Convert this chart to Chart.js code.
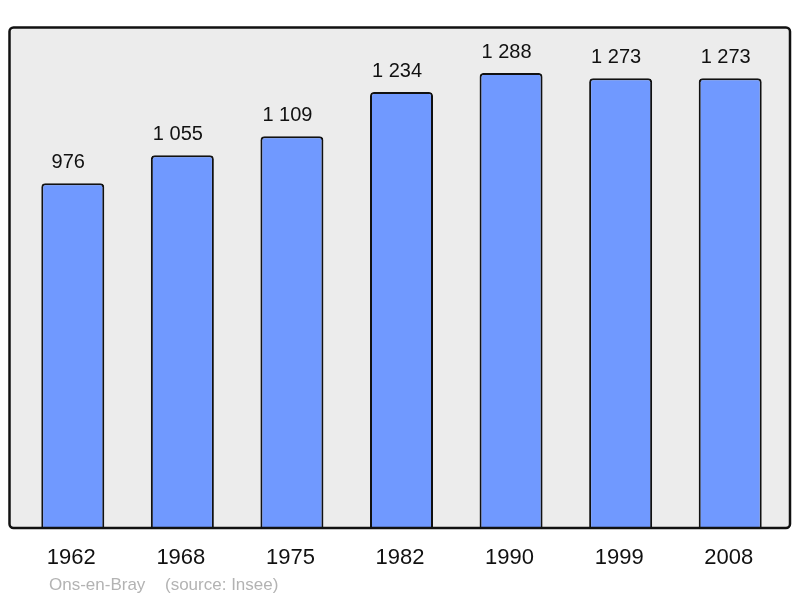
<!DOCTYPE html>
<html>
<head>
<meta charset="utf-8">
<script src="https://cdn.jsdelivr.net/npm/chart.js@4/dist/chart.umd.min.js"></script>
<style>
  html, body { margin: 0; padding: 0; background: #fff; }
  #wrap { width: 800px; height: 598px; }
</style>
</head>
<body>
<div id="wrap"><canvas id="popChart" width="800" height="598"></canvas></div>
<script>
// données
const years = ['1962', '1968', '1975', '1982', '1990', '1999', '2008'];
const population = [976, 1055, 1109, 1234, 1288, 1273, 1273];
const commune = 'Ons-en-Bray';
const source = '(source: Insee)';

const FONT = '"Liberation Sans", Arial, sans-serif';

function fmt(n) {
    return String(n).replace(/\B(?=(\d{3})+(?!\d))/g, ' ');
}

// cadre gris + textes
const decor = {
    id: 'decor',
    beforeDraw(chart) {
        const c = chart.ctx;
        c.save();
        c.fillStyle = '#ececec';
        c.beginPath();
        c.roundRect(9.5, 27.5, 780.5, 500.5, 4);
        c.fill();
        c.restore();
    },
    afterDatasetsDraw(chart) {
        const c = chart.ctx;
        const meta = chart.getDatasetMeta(0);
        const xs = chart.scales.x;
        c.save();
        c.strokeStyle = '#111';
        c.lineWidth = 2.5;
        c.beginPath();
        c.roundRect(9.5, 27.5, 780.5, 500.5, 4);
        c.stroke();

        c.fillStyle = '#111';
        c.textAlign = 'center';
        c.font = '20px ' + FONT;
        c.textBaseline = 'alphabetic';
        meta.data.forEach((bar, i) => {
            c.fillText(fmt(population[i]), bar.x - 4.5, bar.y - 15);
        });

        c.font = '22px ' + FONT;
        c.textBaseline = 'middle';
        years.forEach((y, i) => {
            c.fillText(y, xs.getPixelForValue(i) - 1.5, 558);
        });

        c.fillStyle = '#b3b3b3';
        c.font = '17px ' + FONT;
        c.textAlign = 'left';
        c.fillText(commune, 49, 585);
        c.fillText(source, 165, 585);
        c.restore();
    }
};

new Chart(document.getElementById('popChart'), {
    type: 'bar',
    data: {
        labels: years,
        datasets: [{
            data: population,
            backgroundColor: '#7099ff',
            borderColor: '#111',
            borderWidth: 2,
            borderSkipped: 'bottom',
            borderRadius: { topLeft: 4, topRight: 4 },
            barPercentage: 0.575,
            categoryPercentage: 1
        }]
    },
    options: {
        responsive: false,
        animation: false,
        layout: { padding: { left: 18, right: 15, top: 27, bottom: 70 } },
        plugins: { legend: { display: false }, tooltip: { enabled: false } },
        scales: {
            x: { display: false },
            y: { display: false, min: 0, max: 1418 }
        }
    },
    plugins: [decor]
});
</script>
</body>
</html>
